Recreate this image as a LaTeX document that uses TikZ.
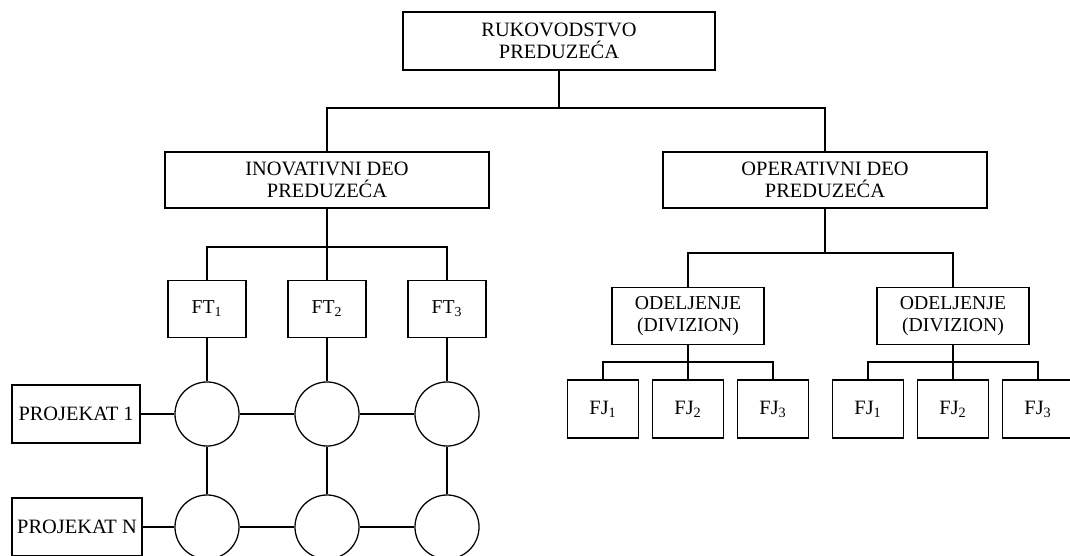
\documentclass[tikz,border=0pt]{standalone}
\usepackage{fontspec}
\setmainfont{Liberation Serif}
\usetikzlibrary{positioning,calc}
\tikzset{unit/.style={draw,line width=1.6pt,minimum height=1.4cm,align=center,font=\fontsize{14.5}{16}\selectfont,inner sep=2pt},head/.style={unit,minimum width=8.1cm},ft/.style={draw,line width=0.9pt,minimum width=1.95cm,minimum height=1.43cm,align=center,inner sep=1pt,font=\fontsize{14}{16}\selectfont},fj/.style={ft,minimum width=1.78cm,minimum height=1.45cm,font=\fontsize{14.5}{16}\selectfont},div/.style={ft,minimum width=3.8cm},proj/.style={ft,minimum width=3.2cm,minimum height=1.45cm,font=\fontsize{14.5}{16}\selectfont},cell/.style={circle,draw,line width=0.9pt,minimum size=1.6cm,inner sep=0pt},conn/.style={line width=0.9pt}}

\begin{document}
\begin{tikzpicture}[x=0.025cm,y=-0.025cm]
\clip (0,0) rectangle (1070,556);
\node[unit,minimum width=7.8cm,minimum height=1.45cm] (top) at (559,41) {RUKOVODSTVO\\PREDUZEĆA};
\node[head] (inov) at (327,180) {INOVATIVNI DEO\\PREDUZEĆA};
\node[head] (oper) at (825,180) {OPERATIVNI DEO\\PREDUZEĆA};
\coordinate (bus) at (559,108);
\draw[conn] (top) -- (bus);
\draw[conn] (inov) |- (bus) -| (oper);
% inovativni deo: matrix of teams and projects
\coordinate (ftbus) at (327,247);
\draw[conn] (inov) -- (ftbus);
\foreach \i/\x in {1/207,2/327,3/447} {
  \node[ft] (ft\i) at (\x,309) {FT\textsubscript{\i}};
  \node[cell] (a\i) at (\x,414) {};
  \node[cell] (b\i) at (\x,527) {};
  \draw[conn] (ft\i) -- (a\i) (a\i) -- (b\i);
}
\draw[conn] (ft1) |- (ftbus) -| (ft3);
\draw[conn] (ft2) -- (ftbus);
\node[proj] (p1) at (76,414) {PROJEKAT 1};
\node[proj,minimum width=3.25cm] (pn) at (77,527) {PROJEKAT N};
\draw[conn] (p1) -- (a1) -- (a2) -- (a3);
\draw[conn] (pn) -- (b1) -- (b2) -- (b3);
% operativni deo: divisions
\node[div] (od1) at (688,316) {ODELJENJE\\(DIVIZION)};
\node[div] (od2) at (953,316) {ODELJENJE\\(DIVIZION)};
\coordinate (obus) at (825,253);
\draw[conn] (oper) -- (obus);
\draw[conn] (od1) |- (obus) -| (od2);
\foreach \d in {1,2} {
  \coordinate (jb\d) at ($(od\d)+(0,46)$);
  \foreach \i/\dx in {1/-85,2/0,3/85}
    \node[fj] (fj\d\i) at ($(od\d)+(\dx,93)$) {FJ\textsubscript{\i}};
  \draw[conn] (od\d) -- (fj\d2);
  \draw[conn] (fj\d1) |- (jb\d) -| (fj\d3);
}
\end{tikzpicture}
\end{document}
